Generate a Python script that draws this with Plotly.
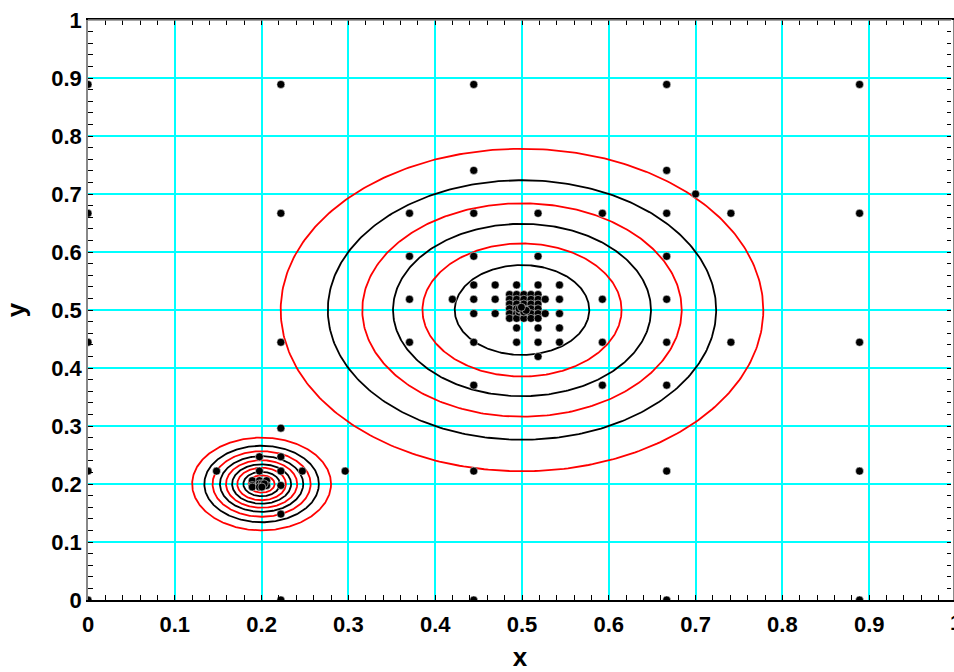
import numpy as np
import plotly.graph_objects as go

# ---- sample points -------------------------------------------------------
# coarse 5x5 lattice (step 2/9)
coarse_x = [0, 0.2222, 0.4444, 0.6667, 0.8889,
            0, 0.2222, 0.4444, 0.6667, 0.8889,
            0, 0.2222, 0.4444, 0.6667, 0.8889,
            0, 0.2222, 0.4444, 0.6667, 0.8889,
            0, 0.2222, 0.4444, 0.6667, 0.8889]
coarse_y = [0.8889] * 5 + [0.6667] * 5 + [0.4444] * 5 + [0.2222] * 5 + [0] * 5

# refined points around the large peak (steps 2/27 and 2/81)
big_ring_x = [0.4444, 0.6667, 0.7,
              0.3704, 0.5185, 0.5926, 0.7407,
              0.3704, 0.4444, 0.5185, 0.6667,
              0.4444, 0.4691, 0.4938, 0.5185, 0.5432,
              0.3704, 0.4198, 0.4444, 0.4691, 0.5432, 0.5926, 0.6667,
              0.4444, 0.4691, 0.5432,
              0.4938, 0.5185, 0.5432,
              0.3704, 0.4938, 0.5185, 0.5432, 0.5926, 0.7407,
              0.5185,
              0.4444, 0.5926, 0.6667]
big_ring_y = [0.7407, 0.7407, 0.7,
              0.6667, 0.6667, 0.6667, 0.6667,
              0.5926, 0.5926, 0.5926, 0.5926,
              0.5432, 0.5432, 0.5432, 0.5432, 0.5432,
              0.5185, 0.5185, 0.5185, 0.5185, 0.5185, 0.5185, 0.5185,
              0.4938, 0.4938, 0.4938,
              0.4691, 0.4691, 0.4691,
              0.4444, 0.4444, 0.4444, 0.4444, 0.4444, 0.4444,
              0.4198,
              0.3704, 0.3704, 0.3704]

# dense core of the large peak (steps 2/243 and 2/729)
big_core_x = [0.4856, 0.4938, 0.5021, 0.5103, 0.5185,
              0.4856, 0.4938, 0.5021, 0.5103, 0.5185, 0.5267,
              0.4856, 0.4938, 0.5021, 0.5103, 0.5185,
              0.4856, 0.4938, 0.5021, 0.5103, 0.5185,
              0.4856, 0.4938, 0.5021, 0.5103, 0.5185, 0.5267,
              0.4856, 0.4938, 0.5021, 0.5103, 0.5185,
              0.4966, 0.4993, 0.5021, 0.4993, 0.4966, 0.5021, 0.5048, 0.4993]
big_core_y = [0.5267] * 5 + [0.5185] * 6 + [0.5103] * 5 + [0.5021] * 5 + \
             [0.4938] * 6 + [0.4856] * 5 + \
             [0.4966, 0.4993, 0.4993, 0.5021, 0.5021, 0.4966, 0.4993, 0.5048]

# refined points around the small peak
small_x = [0.2222,
           0.1975, 0.2222,
           0.1481, 0.1975, 0.2469, 0.2963,
           0.2222,
           0.2222,
           0.1893, 0.1975, 0.2058,
           0.1893, 0.1975, 0.2058,
           0.1975, 0.2003, 0.2030,
           0.1893, 0.1975, 0.2003]
small_y = [0.2963,
           0.2469, 0.2469,
           0.2222, 0.2222, 0.2222, 0.2222,
           0.1975,
           0.1481,
           0.2058, 0.2058, 0.2058,
           0.1975, 0.1975, 0.1975,
           0.2003, 0.2003, 0.2003,
           0.1948, 0.1948, 0.1948]

# ---- contour levels (radius of each level set) ---------------------------
big_center = (0.5, 0.5)
big_radii = [0.278, 0.2237, 0.184, 0.1486, 0.1147, 0.0775]
small_center = (0.2, 0.2)
small_radii = [0.080, 0.066, 0.0565, 0.048, 0.041, 0.034, 0.028, 0.021, 0.015]
level_colors = ["#ff0000", "#000000"]

x_ticks = [0, 0.1, 0.2, 0.3, 0.4, 0.5, 0.6, 0.7, 0.8, 0.9]
y_ticks = [0, 0.1, 0.2, 0.3, 0.4, 0.5, 0.6, 0.7, 0.8, 0.9, 1]

FONT = "Liberation Sans, Arial, sans-serif"

fig = go.Figure()

theta = np.linspace(0, 2 * np.pi, 361)
for center, radii in ((big_center, big_radii), (small_center, small_radii)):
    for k, r in enumerate(radii):
        fig.add_trace(go.Scatter(
            x=center[0] + r * np.cos(theta),
            y=center[1] + r * np.sin(theta),
            mode="lines",
            line=dict(color=level_colors[k % 2], width=1.8),
            hoverinfo="skip",
            showlegend=False,
        ))

pts_x = coarse_x + big_ring_x + big_core_x + small_x
pts_y = coarse_y + big_ring_y + big_core_y + small_y
fig.add_trace(go.Scatter(
    x=pts_x, y=pts_y, mode="markers",
    marker=dict(size=8, color="black", line=dict(color="white", width=0.5)),
    showlegend=False,
))

# 870 px per unit so the 0.1 grid lands on whole pixels; axis runs past the page edge
x_max = (954 - 88) / 870.0
tickfont = dict(family=FONT, size=22, color="black", weight="bold")

fig.update_xaxes(
    range=[0, x_max], tickvals=x_ticks, ticktext=[f"{v:g}" for v in x_ticks],
    showgrid=True, gridcolor="#00ffff", gridwidth=1.5, zeroline=False,
    ticks="inside", ticklen=5, tickwidth=1, tickcolor="black",
    minor=dict(dtick=0.02, tick0=0, ticks="inside", ticklen=5, tickcolor="black",
               showgrid=False),
    showline=True, linecolor="black", linewidth=1.5, mirror="ticks",
    tickfont=tickfont, ticklabelstandoff=4,
    title=dict(text="x", font=dict(family=FONT, size=26, color="black", weight="bold"),
               standoff=14),
)
fig.update_yaxes(
    range=[0, 1], tickvals=y_ticks, ticktext=[f"{v:g}" for v in y_ticks],
    showgrid=True, gridcolor="#00ffff", gridwidth=1.5, zeroline=False,
    ticks="inside", ticklen=5, tickwidth=1, tickcolor="black",
    minor=dict(dtick=0.02, tick0=0, ticks="inside", ticklen=5, tickcolor="black",
               showgrid=False),
    showline=True, linecolor="#888888", linewidth=1.5, mirror="ticks",
    tickfont=tickfont,
    title=dict(text="y", font=dict(family=FONT, size=26, color="black", weight="bold"),
               standoff=18),
)

# top frame edge in grey, right frame edge hidden (ticks only)
fig.add_shape(type="line", xref="paper", yref="paper", x0=0, x1=1, y0=1, y1=1,
              line=dict(color="#888888", width=1.5), layer="above")
fig.add_shape(type="line", xref="paper", yref="paper", x0=1, x1=1, y0=0, y1=1,
              line=dict(color="white", width=2), layer="above")

# last x tick label sits just past the right edge of the plot area
fig.add_annotation(text="1", xref="paper", yref="paper", x=1.0 / x_max, y=0,
                   yanchor="top", xanchor="center", showarrow=False, yshift=-8,
                   font=tickfont)

fig.update_layout(
    width=954, height=672,
    margin=dict(l=88, r=0, t=20, b=72),
    plot_bgcolor="white", paper_bgcolor="white",
    showlegend=False,
)

fig.write_html("out.html")
